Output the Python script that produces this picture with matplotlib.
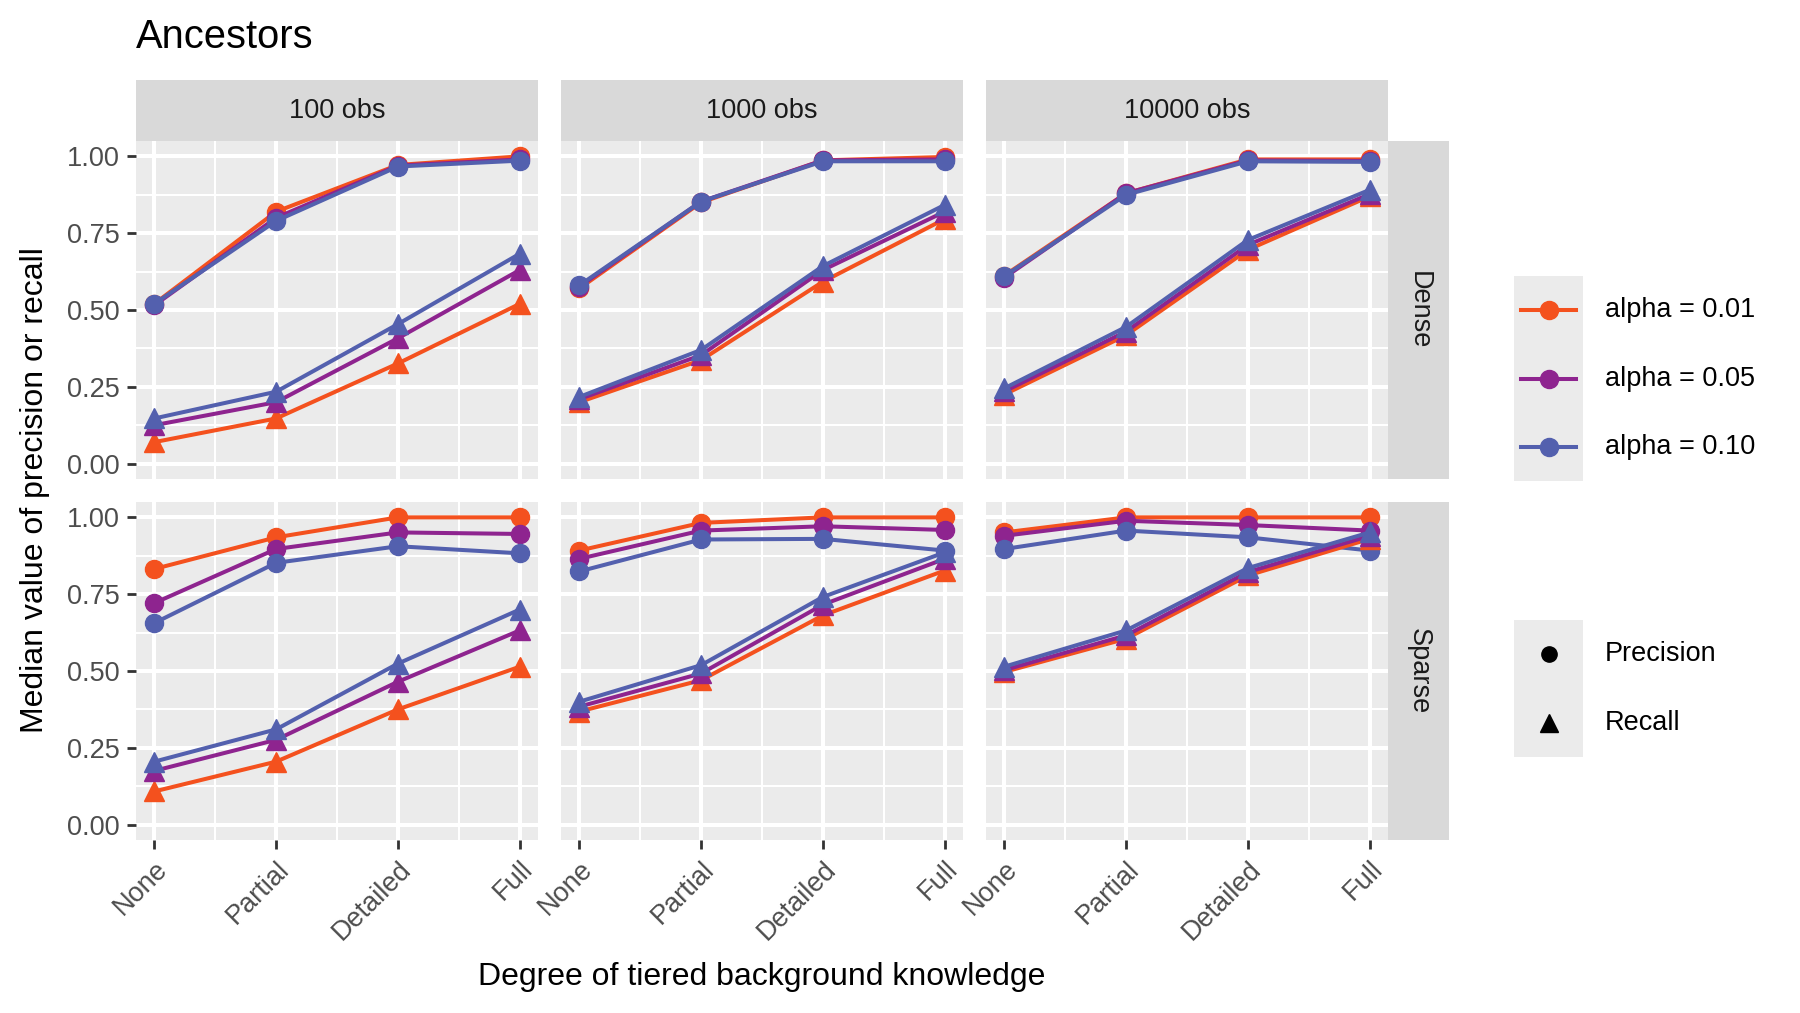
import numpy as np
import matplotlib
matplotlib.use("Agg")
import matplotlib.pyplot as plt

plt.rcParams['font.family'] = ['Liberation Sans', 'DejaVu Sans']

levels = ['None', 'Partial', 'Detailed', 'Full']
obs_labels = ['100 obs', '1000 obs', '10000 obs']
density_labels = ['Dense', 'Sparse']
alpha_labels = ['alpha = 0.01', 'alpha = 0.05', 'alpha = 0.10']
shape_labels = ['Precision', 'Recall']
colors = ['#F4511E', '#8E248F', '#5360AE']

# rows: alpha 0.01, 0.05, 0.10 ; columns: None, Partial, Detailed, Full
prec_dense_100 = [[0.52, 0.82, 0.972, 1.0], [0.515, 0.80, 0.97, 0.99], [0.52, 0.79, 0.967, 0.986]]
rec_dense_100 = [[0.07, 0.147, 0.326, 0.52], [0.125, 0.20, 0.408, 0.63], [0.147, 0.234, 0.454, 0.683]]
prec_dense_1000 = [[0.57, 0.85, 0.987, 0.998], [0.576, 0.853, 0.987, 0.99], [0.58, 0.853, 0.984, 0.984]]
rec_dense_1000 = [[0.20, 0.337, 0.592, 0.796], [0.21, 0.353, 0.63, 0.82], [0.217, 0.37, 0.643, 0.842]]
prec_dense_10000 = [[0.612, 0.88, 0.99, 0.99], [0.605, 0.88, 0.987, 0.985], [0.61, 0.875, 0.984, 0.982]]
rec_dense_10000 = [[0.225, 0.418, 0.696, 0.87], [0.235, 0.43, 0.712, 0.877], [0.245, 0.445, 0.728, 0.891]]
prec_sparse_100 = [[0.832, 0.935, 1.0, 1.0], [0.721, 0.897, 0.951, 0.946], [0.656, 0.852, 0.906, 0.883]]
rec_sparse_100 = [[0.108, 0.205, 0.375, 0.514], [0.175, 0.276, 0.465, 0.632], [0.205, 0.31, 0.524, 0.70]]
prec_sparse_1000 = [[0.892, 0.982, 1.0, 1.0], [0.865, 0.957, 0.971, 0.959], [0.824, 0.928, 0.93, 0.892]]
rec_sparse_1000 = [[0.368, 0.47, 0.681, 0.827], [0.384, 0.492, 0.716, 0.865], [0.40, 0.519, 0.741, 0.886]]
prec_sparse_10000 = [[0.951, 1.0, 1.0, 1.0], [0.94, 0.989, 0.975, 0.957], [0.897, 0.957, 0.935, 0.892]]
rec_sparse_10000 = [[0.497, 0.605, 0.811, 0.93], [0.503, 0.616, 0.822, 0.94], [0.514, 0.632, 0.835, 0.951]]

precision = [[prec_dense_100, prec_dense_1000, prec_dense_10000],
             [prec_sparse_100, prec_sparse_1000, prec_sparse_10000]]
recall = [[rec_dense_100, rec_dense_1000, rec_dense_10000],
          [rec_sparse_100, rec_sparse_1000, rec_sparse_10000]]

W, H = 1800, 1013
fig = plt.figure(figsize=(W / 100, H / 100), dpi=100)


def fx(px):
    return px / W


def fy(py):
    return 1 - py / H


def blank(ax, bg):
    ax.set_facecolor(bg)
    ax.set_xticks([])
    ax.set_yticks([])
    for s in ax.spines.values():
        s.set_visible(False)


col_left = [136, 561, 986]
panel_w = 402
row_top = [141, 502]
panel_h = 338
strip_h = 61
strip_w = 61
panel_bg = '#EBEBEB'
strip_bg = '#D9D9D9'
small = 19.5

x = np.arange(1, 5)
for r in range(2):
    for c in range(3):
        ax = fig.add_axes([fx(col_left[c]), fy(row_top[r] + panel_h), fx(panel_w), panel_h / H])
        ax.set_facecolor(panel_bg)
        for s in ax.spines.values():
            s.set_visible(False)
        ax.set_xlim(0.85, 4.15)
        ax.set_ylim(-0.05, 1.05)
        ax.set_xticks(x)
        ax.set_xticks([1.5, 2.5, 3.5], minor=True)
        ax.set_yticks([0, 0.25, 0.5, 0.75, 1.0])
        ax.set_yticks([0.125, 0.375, 0.625, 0.875], minor=True)
        ax.grid(which='major', color='white', linewidth=2.9)
        ax.grid(which='minor', color='white', linewidth=1.45)
        ax.set_axisbelow(True)
        ax.tick_params(which='minor', length=0)
        ax.tick_params(which='major', length=6.5, width=2.0, color='#333333',
                       labelcolor='#4D4D4D', labelsize=small, pad=5)
        if c == 0:
            ax.set_yticklabels(['0.00', '0.25', '0.50', '0.75', '1.00'])
        else:
            ax.tick_params(axis='y', length=0, labelleft=False)
        if r == 1:
            ax.set_xticklabels(levels, rotation=45, ha='right', va='top',
                               rotation_mode='anchor')
        else:
            ax.tick_params(axis='x', length=0, labelbottom=False)

        for a in range(3):
            ax.plot(x, precision[r][c][a], color=colors[a], lw=2.9, marker='o',
                    markersize=13, zorder=3)
        for a in range(3):
            ax.plot(x, recall[r][c][a], color=colors[a], lw=2.9, marker='^',
                    markersize=14, zorder=3)

        if r == 0:
            sax = fig.add_axes([fx(col_left[c]), fy(row_top[0]), fx(panel_w), strip_h / H])
            blank(sax, strip_bg)
            sax.text(0.5, 0.5, obs_labels[c], ha='center', va='center',
                     fontsize=small, color='#1A1A1A', transform=sax.transAxes)
        if c == 2:
            rax = fig.add_axes([fx(col_left[2] + panel_w), fy(row_top[r] + panel_h),
                                fx(strip_w), panel_h / H])
            blank(rax, strip_bg)
            rax.text(0.5, 0.5, density_labels[r], ha='center', va='center',
                     rotation=-90, fontsize=small, color='#1A1A1A', transform=rax.transAxes)

# titles
fig.text(fx(136), fy(37), 'Ancestors', ha='left', va='center', fontsize=28.7, color='black')
fig.text(fx(762), fy(977), 'Degree of tiered background knowledge', ha='center',
         va='center', fontsize=23, color='black')
fig.text(fx(35), fy(490), 'Median value of precision or recall', ha='center',
         va='center', rotation=90, fontsize=23, color='black')

# legend: alpha colours (one key column, entries stacked top to bottom)
key_left, key_w, key_h = 1514, 69, 68.5
label_x = 1605
leg1_top = 276
n1 = len(alpha_labels)
lax = fig.add_axes([fx(key_left), fy(leg1_top + n1 * key_h), fx(key_w), n1 * key_h / H])
blank(lax, panel_bg)
lax.set_xlim(0, 1)
lax.set_ylim(n1, 0)
for i, lab in enumerate(alpha_labels):
    lax.plot([0.1, 0.9], [i + 0.5, i + 0.5], color=colors[i], lw=2.9)
    lax.plot([0.5], [i + 0.5], marker='o', color=colors[i], markersize=13)
    fig.text(fx(label_x), fy(leg1_top + (i + 0.5) * key_h), lab, ha='left',
             va='center', fontsize=small, color='black')

# legend: shapes
leg2_top = 620
n2 = len(shape_labels)
shape_markers = ['o', '^']
shape_sizes = [11, 13]
sax2 = fig.add_axes([fx(key_left), fy(leg2_top + n2 * key_h), fx(key_w), n2 * key_h / H])
blank(sax2, panel_bg)
sax2.set_xlim(0, 1)
sax2.set_ylim(n2, 0)
for i, lab in enumerate(shape_labels):
    sax2.plot([0.5], [i + 0.5], marker=shape_markers[i], color='black',
              markersize=shape_sizes[i])
    fig.text(fx(label_x), fy(leg2_top + (i + 0.5) * key_h), lab, ha='left',
             va='center', fontsize=small, color='black')

fig.savefig('out.png', dpi=100, facecolor='white')
